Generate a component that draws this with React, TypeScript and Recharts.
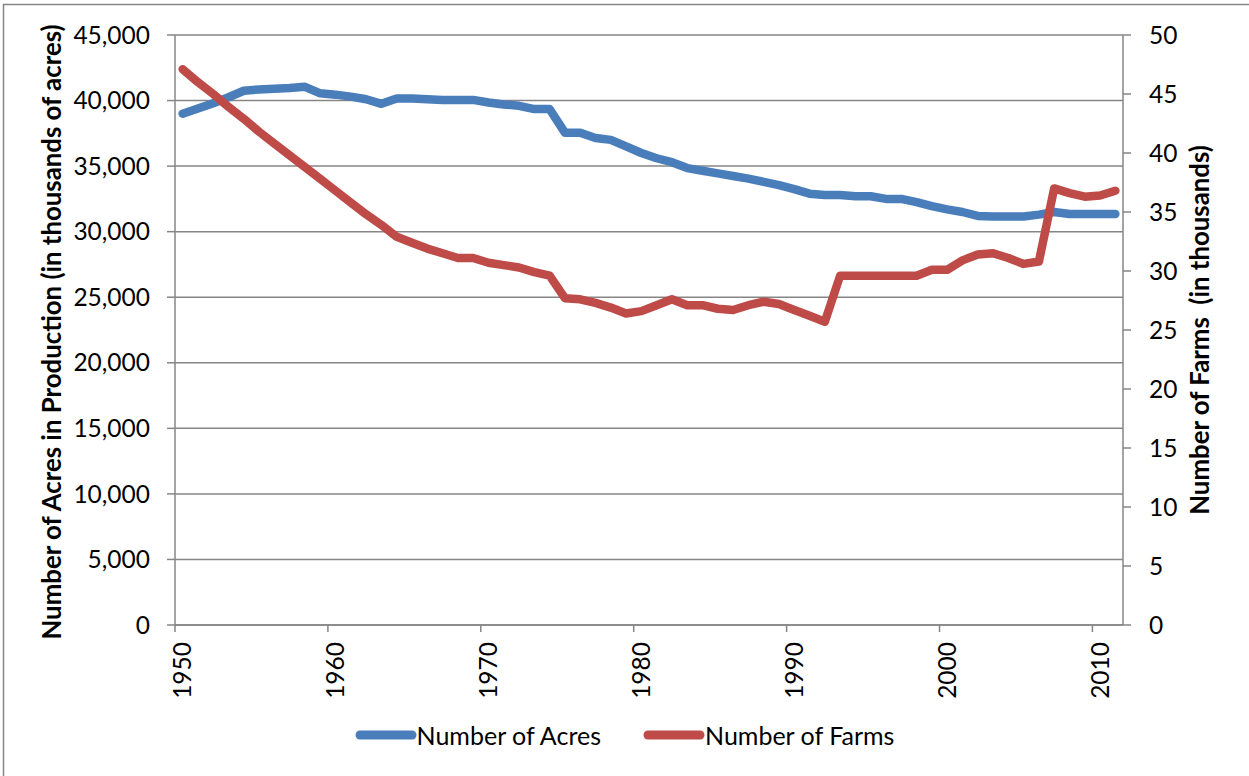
import { ComposedChart, Line, XAxis, YAxis, CartesianGrid, Legend } from 'recharts';

// one category per year, 1950-2011
const years = [
  1950, 1951, 1952, 1953, 1954, 1955, 1956, 1957, 1958, 1959,
  1960, 1961, 1962, 1963, 1964, 1965, 1966, 1967, 1968, 1969,
  1970, 1971, 1972, 1973, 1974, 1975, 1976, 1977, 1978, 1979,
  1980, 1981, 1982, 1983, 1984, 1985, 1986, 1987, 1988, 1989,
  1990, 1991, 1992, 1993, 1994, 1995, 1996, 1997, 1998, 1999,
  2000, 2001, 2002, 2003, 2004, 2005, 2006, 2007, 2008, 2009,
  2010, 2011,
];

// thousands of acres in production
const acres = [
  39000, 39400, 39800, 40250, 40750, 40850, 40900, 40950, 41050, 40550,
  40450, 40300, 40100, 39750, 40150, 40150, 40100, 40050, 40050, 40050,
  39850, 39700, 39600, 39350, 39350, 37550, 37550, 37150, 37000, 36500,
  36000, 35600, 35300, 34850, 34650, 34450, 34250, 34050, 33800, 33550,
  33250, 32900, 32800, 32800, 32700, 32700, 32500, 32500, 32250, 31950,
  31700, 31500, 31200, 31150, 31150, 31150, 31300, 31500, 31350, 31350,
  31350, 31350,
];

// number of farms, thousands
const farms = [
  47.1, 46.0, 45.0, 43.9, 42.9, 41.8, 40.8, 39.8, 38.8, 37.8,
  36.8, 35.8, 34.8, 33.9, 32.9, 32.4, 31.9, 31.5, 31.1, 31.1,
  30.7, 30.5, 30.3, 29.9, 29.6, 27.7, 27.6, 27.3, 26.9, 26.4,
  26.6, 27.1, 27.6, 27.1, 27.1, 26.8, 26.7, 27.1, 27.4, 27.2,
  26.7, 26.2, 25.7, 29.6, 29.6, 29.6, 29.6, 29.6, 29.6, 30.1,
  30.1, 30.9, 31.4, 31.5, 31.1, 30.6, 30.8, 37.0, 36.6, 36.3,
  36.4, 36.8,
];

const acreTicks = [0, 5000, 10000, 15000, 20000, 25000, 30000, 35000, 40000, 45000];
const farmTicks = [0, 5, 10, 15, 20, 25, 30, 35, 40, 45, 50];

const data = years.map((year, i) => ({ year, acres: acres[i], farms: farms[i] }));

const BLUE = '#4A7EBB';
const RED = '#BE4B48';
const GRAY = '#868686';
const FONT = 'Lato, "Noto Sans", sans-serif';

const tickStyle = { fill: '#000', fontSize: 24.5, fontFamily: FONT };
const titleStyle = { fontFamily: FONT, fontSize: 25.8, fontWeight: 700, fill: '#000', whiteSpace: 'pre' as const };

// Year labels sit in the middle of the band, tick marks on the band boundary
const YearTick = (props: any) => {
  const { x, y, payload } = props;
  const half = typeof payload.offset === 'number' && payload.offset > 0 ? payload.offset : 7.64;
  const ty = y + 17;
  return (
    <g>
      <line x1={x - half} y1={y} x2={x - half} y2={y + 7} stroke={GRAY} strokeWidth={1.5} />
      <text
        x={x}
        y={ty}
        dy="0.35em"
        textAnchor="end"
        transform={`rotate(-90, ${x}, ${ty})`}
        style={tickStyle}
      >
        {payload.value}
      </text>
    </g>
  );
};

const LegendBox = () => {
  const items = [
    { name: 'Number of Acres', color: BLUE },
    { name: 'Number of Farms', color: RED },
  ];
  return (
    <div style={{ display: 'flex', justifyContent: 'center', gap: 42, fontFamily: FONT, fontSize: 25 }}>
      {items.map((it) => (
        <div key={it.name} style={{ display: 'flex', alignItems: 'center' }}>
          <svg width={62} height={12}>
            <line x1={5} y1={6} x2={57} y2={6} stroke={it.color} strokeWidth={9} strokeLinecap="round" />
          </svg>
          <span style={{ color: '#000' }}>{it.name}</span>
        </div>
      ))}
    </div>
  );
};

export default function App() {
  return (
    <div style={{ position: 'absolute', left: 0, top: 0, width: 1249, height: 776, background: '#fff' }}>
      <ComposedChart width={1249} height={776} data={data} margin={{ top: 35, right: 0, bottom: 0, left: 0 }}>
        <CartesianGrid yAxisId="left" vertical={false} stroke={GRAY} strokeWidth={1.5} />
        <XAxis
          dataKey="year"
          type="category"
          scale="band"
          height={151}
          interval={9}
          tickSize={0}
          tickMargin={0}
          tickLine={false}
          axisLine={{ stroke: GRAY, strokeWidth: 1.5 }}
          tick={<YearTick />}
        />
        <YAxis
          yAxisId="left"
          width={175}
          domain={[0, 45000]}
          ticks={acreTicks}
          tickFormatter={(v: number) => v.toLocaleString('en-US')}
          tickSize={8}
          tickMargin={17}
          tick={tickStyle}
          axisLine={{ stroke: GRAY, strokeWidth: 1.5 }}
          tickLine={{ stroke: GRAY, strokeWidth: 1.5 }}
        />
        <YAxis
          yAxisId="right"
          orientation="right"
          width={126}
          domain={[0, 50]}
          ticks={farmTicks}
          tickSize={8}
          tickMargin={18}
          tick={tickStyle}
          axisLine={{ stroke: GRAY, strokeWidth: 1.5 }}
          tickLine={{ stroke: GRAY, strokeWidth: 1.5 }}
        />
        <Line
          yAxisId="left"
          type="linear"
          dataKey="acres"
          name="Number of Acres"
          stroke={BLUE}
          strokeWidth={8.5}
          strokeLinecap="round"
          strokeLinejoin="round"
          dot={false}
          activeDot={false}
          isAnimationActive={false}
        />
        <Line
          yAxisId="right"
          type="linear"
          dataKey="farms"
          name="Number of Farms"
          stroke={RED}
          strokeWidth={8.5}
          strokeLinecap="round"
          strokeLinejoin="round"
          dot={false}
          activeDot={false}
          isAnimationActive={false}
        />
        <Legend
          verticalAlign="middle"
          align="center"
          content={<LegendBox />}
          wrapperStyle={{ left: 0, top: 720, width: 1249 }}
        />
      </ComposedChart>
      <svg
        width={1249}
        height={776}
        style={{ position: 'absolute', left: 0, top: 0, pointerEvents: 'none' }}
      >
        <rect x={3.5} y={4.5} width={1300} height={800} fill="none" stroke={GRAY} strokeWidth={1.5} />
        <text x={52} y={332} dy="0.35em" textAnchor="middle" transform="rotate(-90, 52, 332)" style={titleStyle}>
          Number of Acres in Production (in thousands of acres)
        </text>
        <text x={1200} y={330} dy="0.35em" textAnchor="middle" transform="rotate(-90, 1200, 330)" style={titleStyle}>
          {'Number of Farms  (in thousands)'}
        </text>
      </svg>
    </div>
  );
}
